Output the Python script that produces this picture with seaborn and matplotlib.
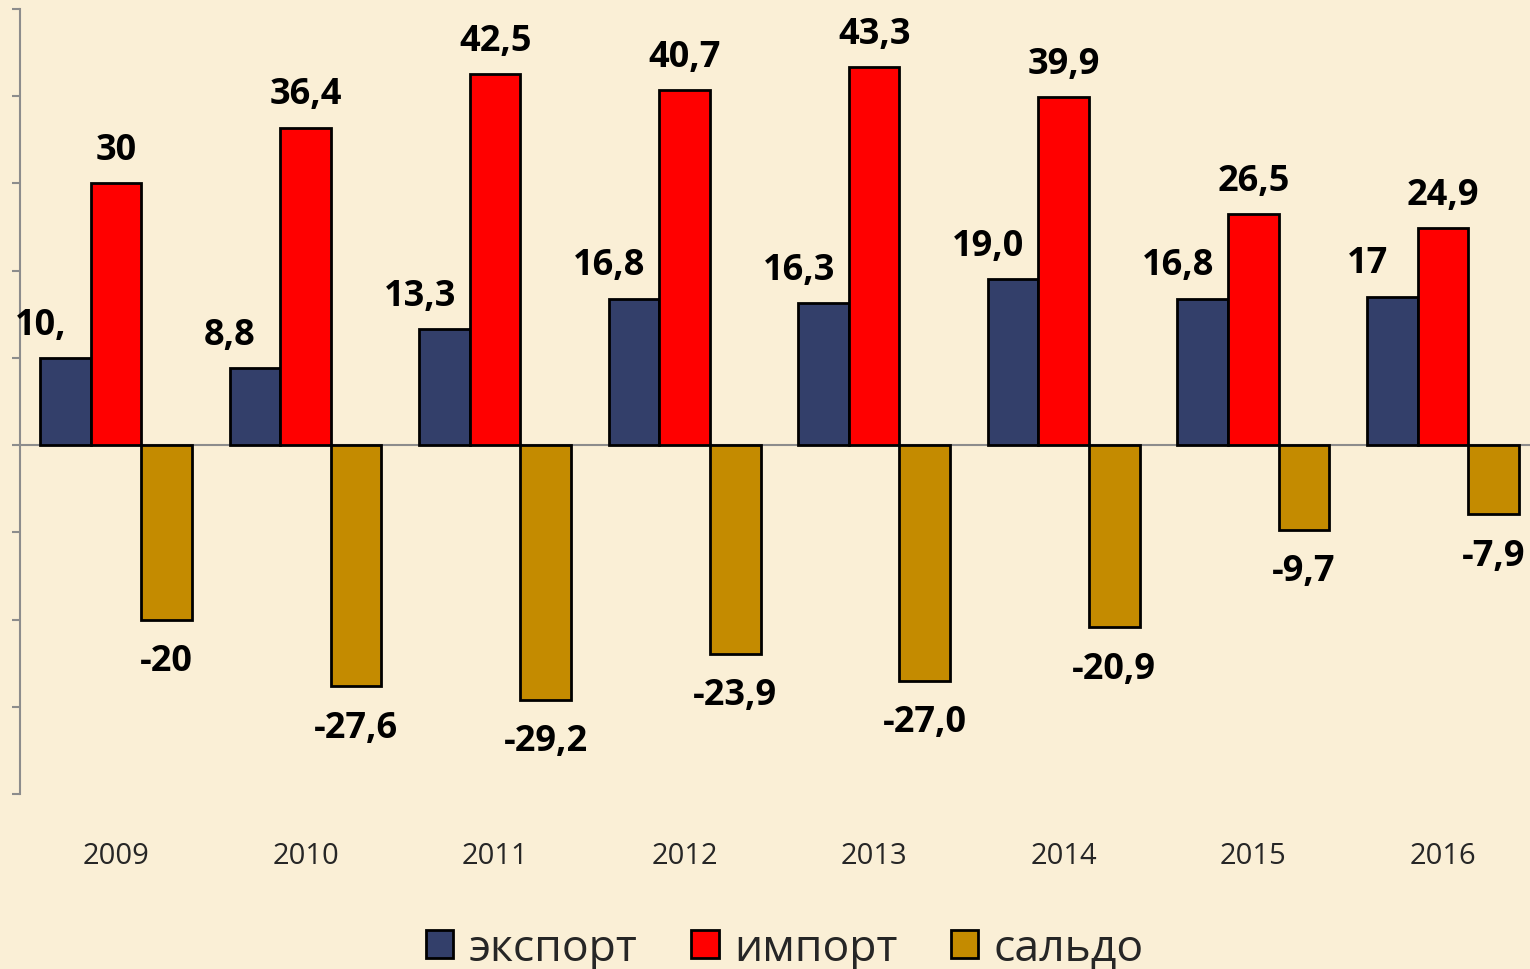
import numpy as np
import pandas as pd
import seaborn as sns
import matplotlib.pyplot as plt

# data
years = ['2009', '2010', '2011', '2012', '2013', '2014', '2015', '2016']
export = [10.0, 8.8, 13.3, 16.8, 16.3, 19.0, 16.8, 17.0]
imports = [30.0, 36.4, 42.5, 40.7, 43.3, 39.9, 26.5, 24.9]
saldo = [-20.0, -27.6, -29.2, -23.9, -27.0, -20.9, -9.7, -7.9]
export_labels = ['10,', '8,8', '13,3', '16,8', '16,3', '19,0', '16,8', '17']
import_labels = ['30', '36,4', '42,5', '40,7', '43,3', '39,9', '26,5', '24,9']
saldo_labels = ['-20', '-27,6', '-29,2', '-23,9', '-27,0', '-20,9', '-9,7', '-7,9']
series = ['экспорт', 'импорт', 'сальдо']
colors = ['#333f6a', '#ff0000', '#c48b00']

df = pd.DataFrame({
    'year': years * 3,
    'series': np.repeat(series, len(years)),
    'value': export + imports + saldo,
})

sns.set_style('white')
plt.rcParams['font.family'] = ['Open Sans', 'DejaVu Sans']

bg = '#faefd6'
fig = plt.figure(figsize=(15.3, 9.7), dpi=100)
fig.patch.set_facecolor(bg)
ax = fig.add_axes([20 / 1530, 1 - 795 / 970, 1 - 20 / 1530, (795 - 10) / 970])
ax.set_facecolor('none')

sns.barplot(data=df, x='year', y='value', hue='series', palette=colors,
            saturation=1, width=0.8, edgecolor='black', linewidth=2,
            errorbar=None, ax=ax, zorder=3)

ax.set_ylim(-40, 50)
ax.set_xlim(-0.507, 7.46)
ax.set_yticks(np.arange(-40, 51, 10))
ax.set_yticklabels([])
ax.set_xlabel('')
ax.set_ylabel('')
ax.axhline(0, color='#8c8c8c', lw=1.5, zorder=2)

for side in ['top', 'right', 'bottom']:
    ax.spines[side].set_visible(False)
ax.spines['left'].set_color('#8c8c8c')
ax.spines['left'].set_linewidth(1.5)
ax.tick_params(axis='y', direction='out', length=6, width=1.5, color='#8c8c8c', left=True)
ax.tick_params(axis='x', length=0, pad=34, labelsize=21)

# value labels
all_labels = [export_labels, import_labels, saldo_labels]
dx = [-18, 0, 0]
for cont, labs, off in zip(ax.containers, all_labels, dx):
    for bar, lab in zip(cont, labs):
        x = bar.get_x() + bar.get_width() / 2
        h = bar.get_height()
        y = bar.get_y() + h
        dy = 24 if h >= 0 else -30
        ax.annotate(lab, (x, y), xytext=(off, dy), textcoords='offset points',
                    ha='center', va='center', fontsize=26, fontweight='bold',
                    color='black', zorder=5, annotation_clip=False)

handles, labels = ax.get_legend_handles_labels()
ax.legend_.remove()
fig.legend(handles, labels, loc='lower center', bbox_to_anchor=(0.513, -0.043),
           ncol=3, frameon=False, fontsize=32, handlelength=0.62, handleheight=0.62,
           handletextpad=0.35, columnspacing=1.2)

fig.savefig('out.png', dpi=100, facecolor=bg)
